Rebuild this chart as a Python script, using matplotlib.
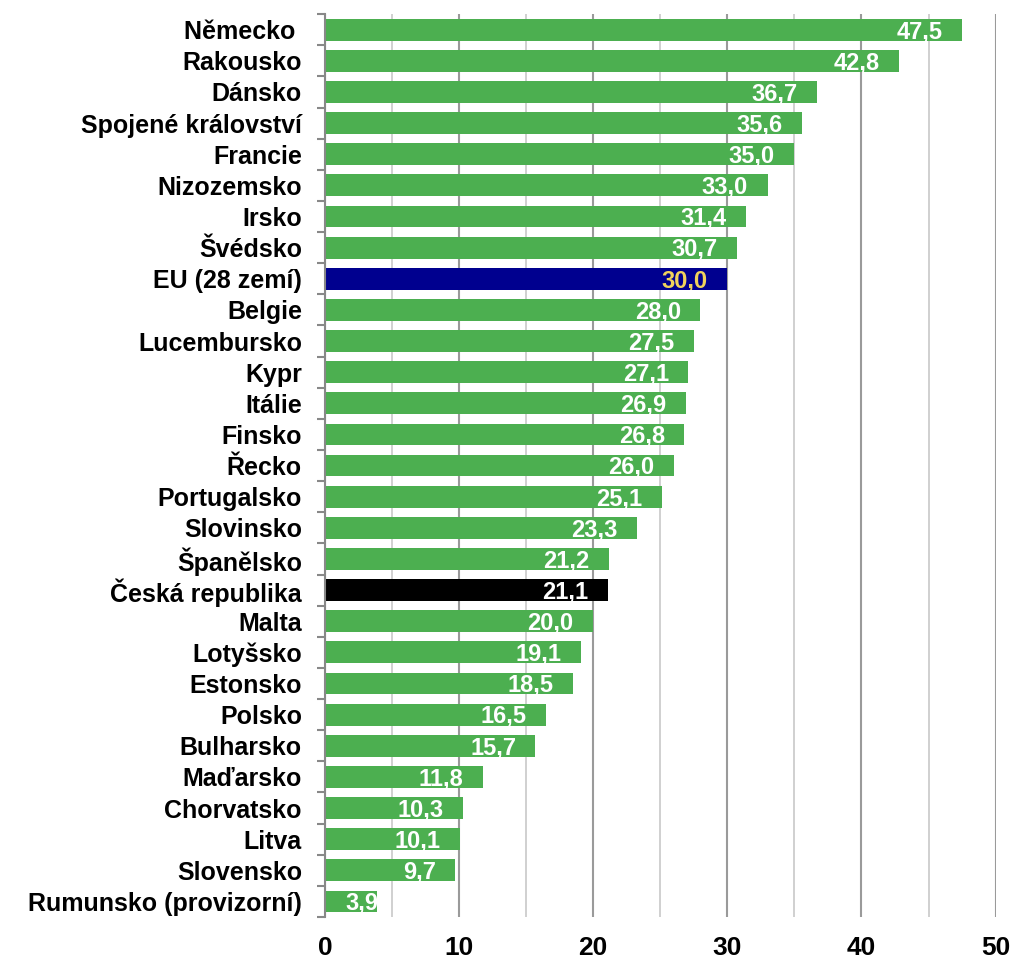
import matplotlib.pyplot as plt
import numpy as np

plt.rcParams['font.family'] = ['Liberation Sans', 'DejaVu Sans']

countries = ["Německo ", "Rakousko", "Dánsko", "Spojené království", "Francie",
             "Nizozemsko", "Irsko", "Švédsko", "EU (28 zemí)", "Belgie",
             "Lucembursko", "Kypr", "Itálie", "Finsko", "Řecko", "Portugalsko",
             "Slovinsko", "Španělsko", "Česká republika", "Malta", "Lotyšsko",
             "Estonsko", "Polsko", "Bulharsko", "Maďarsko", "Chorvatsko",
             "Litva", "Slovensko", "Rumunsko (provizorní)"]
values = [47.5, 42.8, 36.7, 35.6, 35.0, 33.0, 31.4, 30.7, 30.0, 28.0,
          27.5, 27.1, 26.9, 26.8, 26.0, 25.1, 23.3, 21.2, 21.1, 20.0,
          19.1, 18.5, 16.5, 15.7, 11.8, 10.3, 10.1, 9.7, 3.9]

green = "#4caf50"
colors = []
label_colors = []
for c in countries:
    if c == "EU (28 zemí)":
        colors.append("#00008f")
        label_colors.append("#f0d35c")
    elif c == "Česká republika":
        colors.append("black")
        label_colors.append("white")
    else:
        colors.append(green)
        label_colors.append("white")

fig = plt.figure(figsize=(10.28, 9.74), dpi=100)
ax = fig.add_axes([0.316, 0.0585, 0.6525, 0.927])

y = np.arange(len(countries))
bars = ax.barh(y, values, height=0.7, color=colors, zorder=3)

ax.set_xlim(0, 50)
ax.set_ylim(len(countries) - 0.5, -0.5)

# popisky hodnot uvnitř sloupců (krátký sloupec -> zarovnat zleva a oříznout)
for bar, v, lc in zip(bars, values, label_colors):
    yc = bar.get_y() + bar.get_height() / 2
    txt = f"{v:.1f}".replace(".", ",")
    if v < 8:
        t = ax.annotate(txt, (0, yc), xytext=(14.5, -6), textcoords="offset points",
                        ha="left", va="baseline", color=lc, fontsize=17,
                        fontweight="bold", zorder=4)
    else:
        t = ax.annotate(txt, (v, yc), xytext=(-14, -6), textcoords="offset points",
                        ha="right", va="baseline", color=lc, fontsize=17,
                        fontweight="bold", zorder=4)
    t.set_clip_path(bar)

ax.set_yticks(y)
ax.set_yticklabels(countries, fontsize=18, fontweight="bold")
ax.set_yticks(np.arange(-0.5, len(countries)), minor=True)
ax.tick_params(axis="y", which="major", length=0, pad=16.5)
ax.tick_params(axis="y", which="minor", length=6, width=1.5, color="#888888")

ax.set_xticks(np.arange(0, 51, 10))
ax.set_xticks(np.arange(5, 50, 10), minor=True)
ax.tick_params(axis="x", which="both", length=0, labelsize=19, pad=14)
for lb in ax.get_xticklabels():
    lb.set_fontweight("bold")
ax.grid(axis="x", which="major", color="#9a9a9a", linewidth=1.5, zorder=0)
ax.grid(axis="x", which="minor", color="#c8c8c8", linewidth=1.2, zorder=0)

for s in ["top", "right", "bottom"]:
    ax.spines[s].set_visible(False)
ax.spines["left"].set_color("#888888")
ax.spines["left"].set_linewidth(1.5)
ax.spines["left"].set_zorder(5)

fig.savefig("out.png", dpi=100)
